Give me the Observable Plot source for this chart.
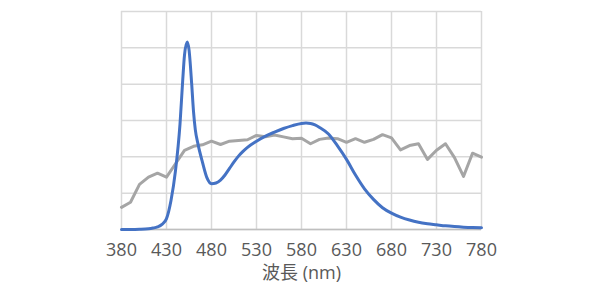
<!DOCTYPE html>
<html>
<head>
<meta charset="utf-8">
<script src="https://cdn.jsdelivr.net/npm/d3@7"></script>
<script src="https://cdn.jsdelivr.net/npm/@observablehq/plot@0.6"></script>
<style>
  html, body { margin: 0; padding: 0; background: #fff; }
</style>
</head>
<body>
<div id="chart"></div>
<script>
// X tick labels
const xTicks = [380, 430, 480, 530, 580, 630, 680, 730, 780];
const yGrid = [0, 1, 2, 3, 4, 5, 6];
const xLabel = "波長 (nm)";

// Blue series (LED spectrum)
const blueNm = [380, 390, 400, 410, 415, 420, 425, 430, 435, 440, 445, 448, 450, 453, 455, 458, 460, 462, 465, 470, 475, 480, 485, 490, 495, 500, 505, 510, 515, 520, 530, 540, 550, 560, 570, 580, 585, 590, 595, 600, 610, 620, 630, 640, 650, 660, 670, 680, 690, 700, 710, 720, 730, 740, 750, 760, 770, 780];
const blueVal = [0, 0, 0.005, 0.02, 0.04, 0.07, 0.14, 0.3, 0.8, 1.62, 2.9, 4.1, 4.8, 5.16, 4.95, 4.0, 3.25, 2.75, 2.35, 1.85, 1.42, 1.26, 1.28, 1.36, 1.5, 1.68, 1.86, 2.02, 2.15, 2.26, 2.43, 2.57, 2.68, 2.78, 2.86, 2.92, 2.93, 2.92, 2.88, 2.81, 2.63, 2.3, 1.93, 1.5, 1.12, 0.83, 0.6, 0.45, 0.34, 0.26, 0.2, 0.16, 0.13, 0.1, 0.08, 0.065, 0.055, 0.05];

// Gray series (reference spectrum)
const grayNm = [380, 390, 400, 410, 420, 430, 440, 450, 460, 470, 480, 490, 500, 510, 520, 530, 540, 550, 560, 570, 580, 590, 600, 610, 620, 630, 640, 650, 660, 670, 680, 690, 700, 710, 720, 730, 740, 750, 760, 770, 780];
const grayVal = [0.61, 0.75, 1.24, 1.44, 1.55, 1.44, 1.81, 2.18, 2.29, 2.33, 2.43, 2.34, 2.43, 2.45, 2.47, 2.59, 2.55, 2.6, 2.55, 2.5, 2.51, 2.36, 2.48, 2.52, 2.5, 2.4, 2.5, 2.4, 2.48, 2.61, 2.52, 2.19, 2.31, 2.36, 1.93, 2.18, 2.36, 1.98, 1.46, 2.1, 1.99];

const blue = blueNm.map((x, i) => ({x, y: blueVal[i]}));
const gray = grayNm.map((x, i) => ({x, y: grayVal[i]}));

const plot = Plot.plot({
  width: 601,
  height: 289,
  marginLeft: 121,
  marginRight: 120,
  marginTop: 11,
  marginBottom: 60,
  style: {
    fontFamily: "'Open Sans','Noto Sans CJK JP',sans-serif",
    fontSize: "18px",
    color: "#595959",
    background: "#fff"
  },
  x: {domain: [380, 780]},
  y: {domain: [0, 6]},
  marks: [
    Plot.gridX(xTicks, {stroke: "#d9d9d9", strokeOpacity: 1, strokeWidth: 1.5}),
    Plot.gridY(yGrid, {stroke: "#d9d9d9", strokeOpacity: 1, strokeWidth: 1.5}),
    Plot.ruleY([0], {stroke: "#bfbfbf", strokeWidth: 1.7}),
    Plot.axisX(xTicks, {tickSize: 0, tickPadding: 14, label: null, fill: "#595959", fontSize: 18, tickFormat: d => String(d)}),
    Plot.axisY({ticks: [], label: null, tickSize: 0}),
    Plot.line(gray, {x: "x", y: "y", stroke: "#a5a5a5", strokeWidth: 3, strokeLinejoin: "round"}),
    Plot.line(blue, {x: "x", y: "y", stroke: "#4472c4", strokeWidth: 3, curve: "monotone-x"}),
    Plot.text([xLabel], {frameAnchor: "bottom", dy: 49, text: d => d, fill: "#595959", fontSize: 18})
  ]
});
document.getElementById("chart").appendChild(plot);
</script>
</body>
</html>
